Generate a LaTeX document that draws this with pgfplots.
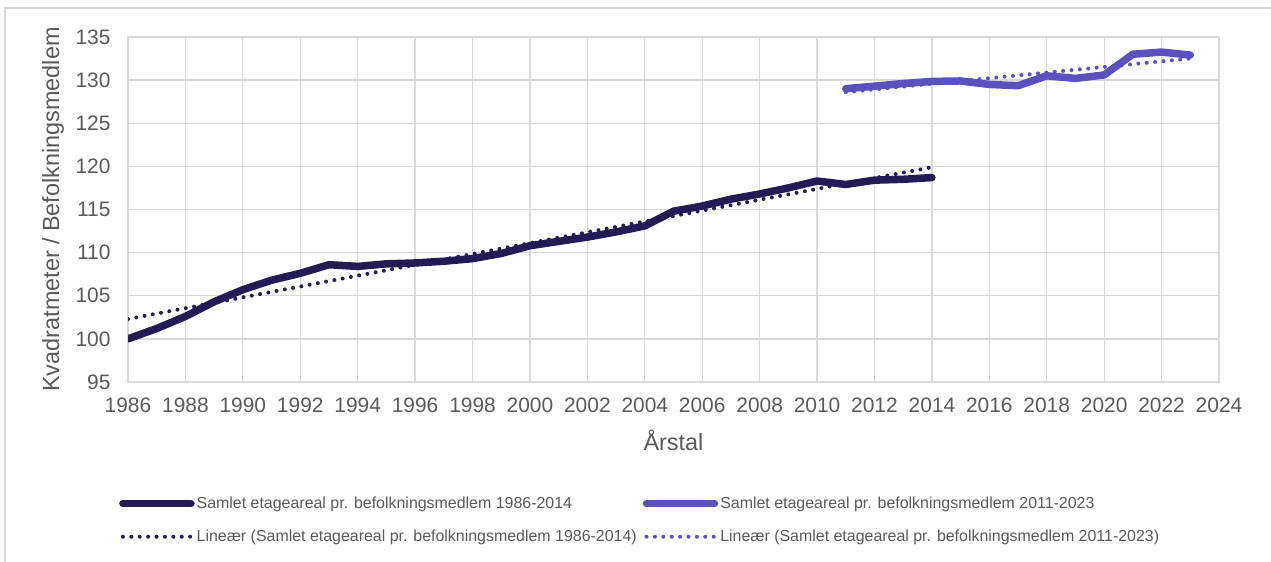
\documentclass[border=0pt]{standalone}
\usepackage{fontspec}
\setmainfont{Liberation Sans}
\usepackage{pgfplots}
\pgfplotsset{compat=1.18}
\definecolor{darkser}{RGB}{35,27,84}
\definecolor{purpser}{RGB}{90,80,190}
\definecolor{gridc}{RGB}{217,217,217}
\definecolor{txt}{RGB}{89,89,89}
\begin{document}
\begin{tikzpicture}[x=1bp,y=1bp]
\path[use as bounding box] (0,0) rectangle (1271,562);
\draw[gridc,line width=1.2bp] (5,0) -- (5,554) -- (1271,554);
\begin{axis}[
  at={(128bp,180bp)}, anchor=south west,
  scale only axis, width=1091bp, height=345bp,
  xmin=1986, xmax=2024, ymin=95, ymax=135,
  xtick={1986,1988,...,2024}, ytick={95,100,...,135},
  x tick label style={/pgf/number format/1000 sep={}},
  /pgf/number format/assume math mode=true,
  tick label style={font=\fontsize{21}{24}\selectfont, text=txt},
  major tick length=0pt,
  grid=major, major grid style={gridc, line width=1.3bp},
  axis line style={gridc, line width=1.3bp},
  yticklabel style={xshift=-14bp},
  xticklabel style={yshift=-12bp},
  xlabel={Årstal}, ylabel={Kvadratmeter / Befolkningsmedlem},
  label style={font=\fontsize{23.5}{27}\selectfont, text=txt},
  xlabel style={at={(axis description cs:0.5,0)}, anchor=center, yshift=-58bp},
  ylabel style={at={(axis description cs:0,0.5)}, anchor=center, yshift=75bp},
  legend columns=2,
  legend cell align=left,
  legend style={at={(axis description cs:0,0)}, anchor=north west, xshift=-12bp, yshift=-111bp,
    draw=none, fill=none, font=\fontsize{16}{19}\selectfont, text=txt,
    row sep=16bp, /tikz/every even column/.append style={column sep=4bp}},
  legend image code/.code={\draw[#1] (0bp,0bp) -- (68bp,0bp);},
]
\addplot[darkser, line width=7.5bp, line join=round, line cap=round] coordinates {
(1986,100.0) (1987,101.2) (1988,102.6) (1989,104.3) (1990,105.7) (1991,106.8)
(1992,107.6) (1993,108.6) (1994,108.4) (1995,108.7) (1996,108.8) (1997,109.0)
(1998,109.3) (1999,109.9) (2000,110.8) (2001,111.3) (2002,111.8) (2003,112.4)
(2004,113.1) (2005,114.8) (2006,115.4) (2007,116.2) (2008,116.8) (2009,117.5)
(2010,118.3) (2011,117.9) (2012,118.4) (2013,118.5) (2014,118.7)};
\addlegendentry{Samlet etageareal pr. befolkningsmedlem 1986-2014}
\addplot[purpser, line width=7.5bp, line join=round, line cap=round] coordinates {
(2011,129.0) (2012,129.3) (2013,129.6) (2014,129.85) (2015,129.9) (2016,129.5)
(2017,129.35) (2018,130.5) (2019,130.2) (2020,130.6) (2021,133.0) (2022,133.25) (2023,132.9)};
\addlegendentry{Samlet etageareal pr. befolkningsmedlem 2011-2023}
\addplot[darkser, line width=4bp, line cap=round, dash pattern=on 0bp off 8.4bp] coordinates {
(1986,102.3) (2014,119.9)};
\addlegendentry{Lineær (Samlet etageareal pr. befolkningsmedlem 1986-2014)}
\addplot[purpser, line width=4bp, line cap=round, dash pattern=on 0bp off 8.4bp] coordinates {
(2011,128.6) (2023,132.5)};
\addlegendentry{Lineær (Samlet etageareal pr. befolkningsmedlem 2011-2023)}
\end{axis}
\end{tikzpicture}
\end{document}
